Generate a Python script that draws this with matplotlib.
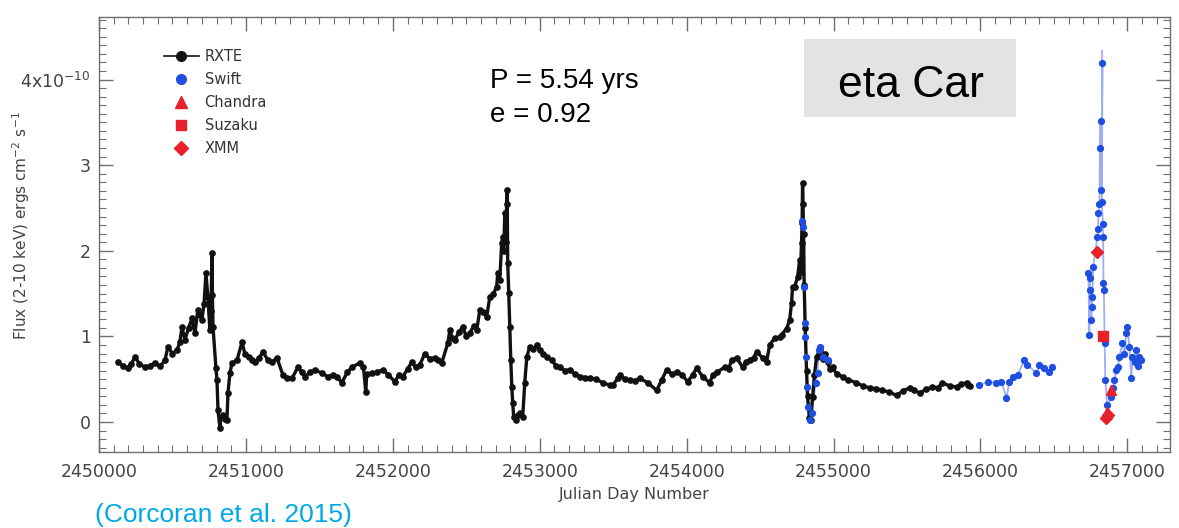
import matplotlib
matplotlib.use("Agg")
import matplotlib.pyplot as plt
from matplotlib.lines import Line2D
from matplotlib.patches import Rectangle
from matplotlib.ticker import MultipleLocator, FuncFormatter

# RXTE light curve (Julian day, flux in 1e-10 erg/cm2/s)
rxte_jd = [
    2450129, 2450160, 2450197, 2450220, 2450245, 2450275, 2450313, 2450345, 2450381, 2450415,
    2450449, 2450469, 2450500, 2450531, 2450550, 2450565, 2450585, 2450610, 2450633, 2450653,
    2450673, 2450690, 2450700, 2450715, 2450728, 2450741, 2450755, 2450762, 2450769, 2450772,
    2450776, 2450796, 2450803, 2450810, 2450823, 2450830, 2450844, 2450858, 2450871, 2450878,
    2450891, 2450905, 2450939, 2450973, 2450993, 2451020, 2451041, 2451061, 2451090, 2451116,
    2451150, 2451180, 2451211, 2451252, 2451280, 2451313, 2451354, 2451380, 2451401, 2451435,
    2451469, 2451517, 2451558, 2451590, 2451619, 2451653, 2451690, 2451721, 2451776, 2451800,
    2451816, 2451822, 2451857, 2451890, 2451932, 2451970, 2452014, 2452040, 2452068, 2452100,
    2452129, 2452155, 2452184, 2452218, 2452250, 2452286, 2452310, 2452333, 2452374, 2452388,
    2452405, 2452422, 2452450, 2452476, 2452500, 2452524, 2452550, 2452571, 2452592, 2452615,
    2452639, 2452660, 2452685, 2452707, 2452714, 2452728, 2452741, 2452748, 2452755, 2452762,
    2452770, 2452776, 2452779, 2452782, 2452789, 2452796, 2452803, 2452810, 2452816, 2452823,
    2452837, 2452850, 2452864, 2452884, 2452898, 2452912, 2452932, 2452955, 2452980, 2453000,
    2453020, 2453050, 2453082, 2453110, 2453136, 2453170, 2453204, 2453240, 2453272, 2453310,
    2453340, 2453380, 2453429, 2453476, 2453497, 2453531, 2453544, 2453580, 2453612, 2453650,
    2453680, 2453735, 2453796, 2453830, 2453864, 2453900, 2453932, 2453970, 2454007, 2454040,
    2454068, 2454109, 2454156, 2454180, 2454204, 2454259, 2454285, 2454306, 2454340, 2454381,
    2454405, 2454429, 2454455, 2454476, 2454517, 2454544, 2454565, 2454599, 2454633, 2454646,
    2454680, 2454701, 2454714, 2454721, 2454735, 2454755, 2454769, 2454775, 2454782, 2454786,
    2454789, 2454792, 2454796, 2454800, 2454807, 2454816, 2454823, 2454835, 2454844, 2454857,
    2454870, 2454884, 2454905, 2454925, 2454940, 2454959, 2454975, 2454993, 2455020, 2455061,
    2455100, 2455156, 2455200, 2455245, 2455290, 2455333, 2455380, 2455429, 2455470, 2455517,
    2455550, 2455585, 2455630, 2455673, 2455710, 2455741, 2455790, 2455837, 2455870, 2455905,
    2455912, 2455930,
]
rxte_flux = [
    0.70, 0.66, 0.63, 0.68, 0.76, 0.68, 0.64, 0.66, 0.69, 0.65,
    0.72, 0.88, 0.80, 0.84, 0.93, 1.11, 0.96, 1.10, 1.21, 1.04,
    1.31, 1.25, 1.19, 1.38, 1.74, 1.46, 1.07, 1.30, 1.97, 1.48,
    1.11, 0.63, 0.49, 0.14, -0.07, 0.06, 0.08, 0.03, 0.02, 0.34,
    0.57, 0.69, 0.72, 0.93, 0.80, 0.76, 0.72, 0.70, 0.75, 0.82,
    0.72, 0.70, 0.75, 0.55, 0.52, 0.51, 0.64, 0.58, 0.53, 0.58,
    0.61, 0.57, 0.53, 0.55, 0.53, 0.46, 0.58, 0.64, 0.69, 0.64,
    0.35, 0.56, 0.57, 0.58, 0.61, 0.55, 0.47, 0.55, 0.53, 0.62,
    0.70, 0.64, 0.67, 0.80, 0.74, 0.75, 0.72, 0.69, 0.92, 1.07,
    0.98, 0.96, 1.05, 1.11, 1.00, 1.04, 1.12, 1.07, 1.31, 1.28,
    1.23, 1.46, 1.50, 1.58, 1.74, 1.66, 2.09, 2.16, 2.00, 2.44,
    2.10, 2.71, 2.55, 1.86, 1.51, 1.11, 0.72, 0.41, 0.22, 0.06,
    0.02, 0.08, 0.10, 0.06, 0.46, 0.76, 0.88, 0.85, 0.90, 0.84,
    0.80, 0.76, 0.72, 0.66, 0.64, 0.60, 0.61, 0.56, 0.53, 0.52,
    0.51, 0.50, 0.46, 0.43, 0.43, 0.51, 0.55, 0.50, 0.49, 0.48,
    0.51, 0.46, 0.37, 0.49, 0.61, 0.56, 0.58, 0.55, 0.47, 0.55,
    0.63, 0.53, 0.46, 0.55, 0.58, 0.64, 0.62, 0.72, 0.75, 0.64,
    0.70, 0.72, 0.75, 0.82, 0.75, 0.70, 0.90, 0.98, 0.99, 1.02,
    1.09, 1.19, 1.39, 1.58, 1.58, 1.69, 1.89, 1.75, 2.09, 2.32,
    2.79, 2.55, 2.20, 1.60, 1.10, 0.60, 0.30, 0.05, 0.02, 0.29,
    0.55, 0.76, 0.84, 0.74, 0.80, 0.70, 0.62, 0.64, 0.56, 0.53,
    0.49, 0.46, 0.42, 0.40, 0.39, 0.37, 0.35, 0.31, 0.36, 0.40,
    0.37, 0.34, 0.38, 0.41, 0.40, 0.46, 0.42, 0.41, 0.44, 0.46,
    0.43, 0.42,
]

# Swift XRT, one list per campaign
swift09_jd = [2454786, 2454789, 2454796, 2454803, 2454807, 2454812, 2454818, 2454825,
              2454840, 2454850, 2454878, 2454891, 2454898, 2454905, 2454925, 2454959]
swift09_flux = [2.35, 2.28, 1.58, 1.16, 0.99, 0.76, 0.41, 0.17,
                0.02, 0.10, 0.46, 0.57, 0.84, 0.88, 0.76, 0.72]
swift12_jd = [2455993, 2456048, 2456109, 2456143, 2456177, 2456197, 2456218, 2456252,
              2456299, 2456320, 2456381, 2456401, 2456435, 2456469, 2456490]
swift12_flux = [0.43, 0.47, 0.46, 0.47, 0.28, 0.47, 0.53, 0.55,
                0.72, 0.67, 0.57, 0.67, 0.63, 0.58, 0.64]
swift14_jd = [
    2456735, 2456741, 2456745, 2456748, 2456755, 2456758, 2456762, 2456766, 2456796, 2456800,
    2456803, 2456810, 2456813, 2456817, 2456823, 2456830, 2456826, 2456833, 2456835, 2456837,
    2456840, 2456845, 2456850, 2456862, 2456891, 2456905, 2456912, 2456925, 2456935, 2456946,
    2456966, 2456980, 2456993, 2457000, 2457014, 2457027, 2457034, 2457050, 2457061, 2457075,
    2457082, 2457090,
]
swift14_flux = [
    1.74, 1.02, 1.68, 1.54, 1.19, 1.34, 1.46, 1.81, 2.16, 2.26,
    2.44, 2.55, 3.20, 3.52, 2.71, 4.19, 2.57, 2.31, 2.16, 1.62,
    1.54, 0.92, 0.49, 0.20, 0.29, 0.40, 0.49, 0.61, 0.64, 0.76,
    0.92, 0.80, 1.04, 1.11, 0.88, 0.51, 0.76, 0.70, 0.84, 0.66,
    0.76, 0.72,
]

chandra_jd = [2456860, 2456885]
chandra_flux = [0.12, 0.37]
suzaku_jd = [2456837]
suzaku_flux = [1.00]
xmm_jd = [2456790, 2456855, 2456871]
xmm_flux = [1.98, 0.05, 0.08]

BLACK = "#111111"
BLUE = "#1f4fe0"
LIGHTBLUE = "#9bb0f2"
RED = "#e8202a"
AXIS = "#6e6e6e"
TEXT = "#444444"

fig = plt.figure(figsize=(11.79, 5.28), dpi=100)
W, H = 1179, 528
ax = fig.add_axes([99 / W, 1 - 452 / H, (1170 - 99) / W, (452 - 17) / H])

ax.plot(rxte_jd, rxte_flux, "-o", color=BLACK, lw=2.4, ms=3.8, zorder=3)
for jd, fl in [(swift09_jd, swift09_flux), (swift12_jd, swift12_flux),
               (swift14_jd, swift14_flux)]:
    ax.plot(jd, fl, "-", color=LIGHTBLUE, lw=1.3, zorder=2)
    ax.plot(jd, fl, "o", color=BLUE, ms=4.2, zorder=4)
ax.errorbar([2456830], [4.19], yerr=0.16, fmt="none", ecolor=LIGHTBLUE, lw=1.3, zorder=2)
ax.plot(chandra_jd, chandra_flux, "^", color=RED, ms=7, zorder=5)
ax.plot(suzaku_jd, suzaku_flux, "s", color=RED, ms=6.5, zorder=5)
ax.plot(xmm_jd, xmm_flux, "D", color=RED, ms=6.5, zorder=5)

ax.set_xlim(2450000, 2457290)
ax.set_ylim(-0.35, 4.73)
ax.xaxis.set_major_locator(MultipleLocator(1000))
ax.xaxis.set_minor_locator(MultipleLocator(100))
ax.yaxis.set_major_locator(MultipleLocator(1))
ax.yaxis.set_minor_locator(MultipleLocator(0.1))
ax.xaxis.set_major_formatter(FuncFormatter(lambda v, p: f"{int(round(v))}"))
ax.yaxis.set_major_formatter(FuncFormatter(
    lambda v, p: r"4x10$^{\mathregular{-10}}$" if round(v) == 4 else f"{int(round(v))}"))

for s in ax.spines.values():
    s.set_color(AXIS)
    s.set_linewidth(1.0)
ax.tick_params(which="both", direction="in", top=True, right=True, color=AXIS,
               labelcolor=TEXT, labelsize=12.5)
ax.tick_params(which="major", length=10, width=1.0)
ax.tick_params(which="minor", length=5, width=0.8)
ax.tick_params(axis="x", pad=8)
ax.tick_params(axis="y", pad=6)

ax.set_xlabel("Julian Day Number", color=TEXT, fontsize=11.5, labelpad=4)
ax.set_ylabel(r"Flux (2-10 keV) ergs cm$^{\mathregular{-2}}$ s$^{\mathregular{-1}}$",
              color=TEXT, fontsize=11)
ax.yaxis.set_label_coords(-0.063, 0.52)

handles = [
    Line2D([], [], color=BLACK, marker="o", ms=7, lw=1.2),
    Line2D([], [], color=BLUE, marker="o", ms=7, lw=0),
    Line2D([], [], color=RED, marker="^", ms=8, lw=0),
    Line2D([], [], color=RED, marker="s", ms=7, lw=0),
    Line2D([], [], color=RED, marker="D", ms=7, lw=0),
]
labels = ["RXTE", "Swift", "Chandra", "Suzaku", "XMM"]
leg = ax.legend(handles, labels, loc="upper left", bbox_to_anchor=(0.055, 0.94),
                frameon=False, fontsize=10.5, handlelength=2.4, handletextpad=0.4,
                labelspacing=0.55, borderaxespad=0)
for t in leg.get_texts():
    t.set_color("#333333")

fig.text(490 / W, 1 - 88 / H, "P = 5.54 yrs", fontsize=20, family="Liberation Sans",
         va="baseline", ha="left", color="black")
fig.text(490 / W, 1 - 122 / H, "e = 0.92", fontsize=20, family="Liberation Sans",
         va="baseline", ha="left", color="black")

fig.patches.append(Rectangle((804 / W, 1 - 117 / H), (1016 - 804) / W, (117 - 39) / H,
                             transform=fig.transFigure, facecolor="#e3e3e3",
                             edgecolor="none", zorder=5))
fig.text(838 / W, 1 - 97 / H, "eta Car", fontsize=32, family="Liberation Sans",
         va="baseline", ha="left", color="black", zorder=6)

fig.text(95 / W, 1 - 522 / H, "(Corcoran et al. 2015)", fontsize=19,
         family="Liberation Sans", va="baseline", ha="left", color="#00a8e8")

fig.savefig("out.png", dpi=100)
